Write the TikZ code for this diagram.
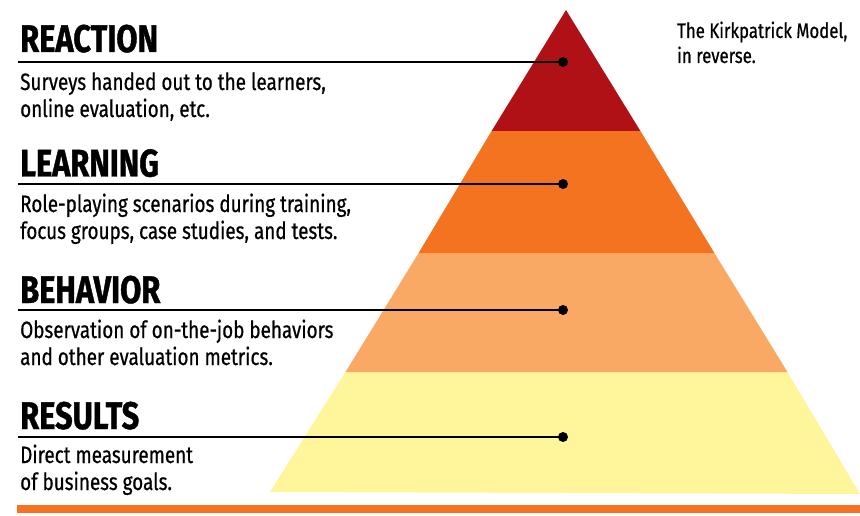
\documentclass[tikz,border=0pt]{standalone}
\usepackage{fontspec}
\setmainfont{Fira Sans}
\newfontfamily\headfont[FakeStretch=0.8,FakeBold=1]{Fira Sans}
\newfontfamily\bodyfont[FakeStretch=0.8,FakeBold=0.6]{Fira Sans}
\begin{document}
\begin{tikzpicture}[x=1pt,y=-1pt,
  heading/.style={anchor=base west,inner sep=0pt,font=\headfont\bfseries\fontsize{38.5}{38}\selectfont},
  body/.style={anchor=base west,inner sep=0pt,font=\bodyfont\fontsize{23.6}{24}\selectfont},
  note/.style={anchor=base west,inner sep=0pt,font=\bodyfont\fontsize{21}{21}\selectfont},
  leader/.style={line width=2.8pt,draw=black},
  dot/.style={circle,fill=black,inner sep=0pt,minimum size=10pt}]
\definecolor{lvlred}{HTML}{B01117}
\definecolor{lvlorange}{HTML}{F47321}
\definecolor{lvllight}{HTML}{F9A964}
\definecolor{lvlyellow}{HTML}{FFF59B}
\useasboundingbox (0,0) rectangle (860,516);
% pyramid layers
\coordinate (apex) at (566,10);
\coordinate (bl) at (270,492);
\coordinate (br) at (860,494);
\fill[lvlyellow] (345.5,372) -- (787.5,372) -- (br) -- (bl) -- cycle;
\fill[lvllight] (418.6,253) -- (714.4,253) -- (787.5,372) -- (345.5,372) -- cycle;
\fill[lvlorange] (491.6,131) -- (640.4,131) -- (714.4,253) -- (418.6,253) -- cycle;
\fill[lvlred] (apex) -- (640.4,131) -- (491.6,131) -- cycle;
% base bar
\fill[lvlorange] (17,505) rectangle (860,513);
% levels
\node[dot] (d1) at (563,62) {};
\node[dot] (d2) at (563,184) {};
\node[dot] (d3) at (563,310) {};
\node[dot] (d4) at (563,437) {};
\coordinate (s1) at (18,62);
\coordinate (s2) at (18,184);
\coordinate (s3) at (18,310);
\coordinate (s4) at (18,437);
\draw[leader] (s1) -- (d1.center);
\draw[leader] (s2) -- (d2.center);
\draw[leader] (s3) -- (d3.center);
\draw[leader] (s4) -- (d4.center);
\node[heading] (h1) at (20,52) {REACTION};
\node[body] (t1a) at (20,90) {Surveys handed out to the learners,};
\node[body] (t1b) at (20,117) {online evaluation, etc.};
\node[heading] (h2) at (20,176.5) {LEARNING};
\node[body] (t2a) at (20,212) {Role-playing scenarios during training,};
\node[body] (t2b) at (20,239) {focus groups, case studies, and tests.};
\node[heading] (h3) at (20,303) {BEHAVIOR};
\node[body] (t3a) at (20,338) {Observation of on-the-job behaviors};
\node[body] (t3b) at (20,365) {and other evaluation metrics.};
\node[heading] (h4) at (20,429) {RESULTS};
\node[body] (t4a) at (20,463) {Direct measurement};
\node[body] (t4b) at (20,490) {of business goals.};
\node[note] (n1) at (677,38) {The Kirkpatrick Model,};
\node[note] (n2) at (677,63) {in reverse.};
\end{tikzpicture}
\end{document}
